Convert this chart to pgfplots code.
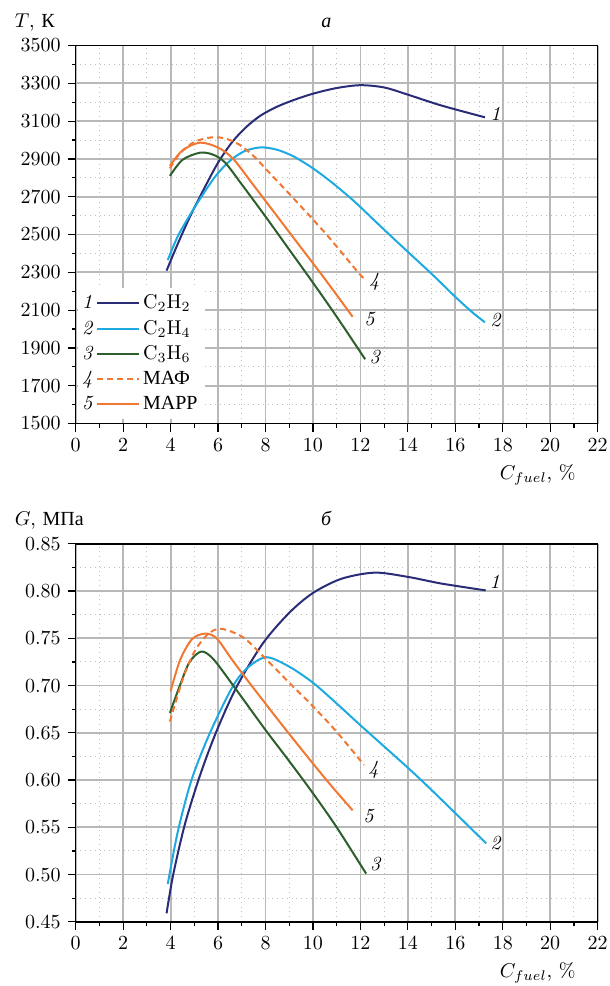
\documentclass[border=0pt]{standalone}
\usepackage{pgfplots}
\pgfplotsset{compat=1.18}
\usepackage{fontspec}
\newfontfamily\cyr{Liberation Serif}
\definecolor{cA}{RGB}{42,44,120}
\definecolor{cB}{RGB}{30,170,225}
\definecolor{cC}{RGB}{45,95,45}
\definecolor{cD}{RGB}{240,120,50}
\pgfplotsset{
  numleg/.style={legend image code/.code={%
    \node[inner sep=0pt, text=black] at (-8pt,0pt) {\textit{#1}};%
    \draw[##1] (0pt,0pt) -- (21pt,0pt);}},
  common/.style={
    scale only axis, width=261pt, height=189pt,
    xmin=0, xmax=22, xtick={0,2,...,22},
    minor x tick num=1, minor y tick num=1,
    grid=both,
    major grid style={draw=black!28, line width=0.9pt},
    minor grid style={draw=black!25, dotted, line width=0.5pt},
    tick pos=left, tick align=outside,
    major tick length=4pt, minor tick length=2pt,
    tick style={black, line width=0.6pt},
    axis line style={line width=0.8pt},
    xlabel={$C_{fuel}$, \%},
    xlabel style={at={(axis description cs:0.885,0)}, anchor=base, yshift=-28pt},
    ylabel style={rotate=-90, at={(axis description cs:0,1)}, anchor=base west, xshift=-34pt, yshift=9pt},
    title style={at={(axis description cs:0.48,1)}, anchor=base, yshift=3pt},
    every axis plot/.append style={line width=1pt},
    /pgf/number format/1000 sep={},
  }
}
\begin{document}
\begin{tikzpicture}
\useasboundingbox (-37.85pt,-281.25pt) rectangle (267.15pt,211.75pt);
\begin{axis}[common, at={(0,0)}, anchor=south west,
  ymin=1500, ymax=3500, ytick={1500,1700,...,3500},
  ylabel={$T$, {\cyr К}}, title={{\cyr\itshape а}},
  legend style={at={(axis description cs:0,0)}, anchor=south west, xshift=1pt, yshift=2pt,
    fill=white, draw=none, inner sep=2pt, row sep=1.2pt, nodes={inner sep=1.5pt}},
  legend cell align=left]
\addplot[cA, smooth, numleg=1] coordinates {(3.83,2309)(4.3,2450)(4.8,2590)(5.4,2740)(6.0,2880)(6.6,2990)(7.2,3070)(7.8,3130)(8.5,3177)(9.2,3212)(10.0,3245)(11.0,3275)(12.0,3290)(13.0,3278)(14.0,3240)(15.4,3183)(17.25,3120)};
\addlegendentry{C$_2$H$_2$}
\addplot[cB, smooth, numleg=2] coordinates {(3.88,2365)(4.3,2490)(4.8,2600)(5.3,2700)(5.9,2810)(6.5,2890)(7.1,2940)(7.8,2961)(8.5,2948)(9.2,2912)(10.0,2850)(10.8,2775)(11.7,2680)(12.5,2585)(13.3,2490)(14.2,2385)(15.1,2280)(16.0,2170)(16.7,2090)(17.25,2035)};
\addlegendentry{C$_2$H$_4$}
\addplot[cC, smooth, numleg=3] coordinates {(3.97,2810)(4.5,2895)(5.24,2933)(5.8,2922)(6.3,2880)(7.0,2765)(8.0,2595)(9.0,2420)(10.0,2245)(11.0,2065)(12.2,1840)};
\addlegendentry{C$_3$H$_6$}
\addplot[cD, smooth, dash pattern=on 3pt off 2pt, numleg=4] coordinates {(3.97,2850)(4.4,2930)(5.0,2990)(5.73,3014)(6.3,3008)(6.9,2975)(7.5,2915)(8.1,2835)(9.15,2695)(10.57,2500)(11.9,2300)(12.2,2262)};
\addlegendentry{{\cyr МАФ}}
\addplot[cD, smooth, numleg=5] coordinates {(3.97,2863)(4.5,2945)(5.24,2986)(6.0,2960)(6.64,2900)(7.5,2760)(8.5,2595)(9.5,2430)(10.5,2265)(11.67,2065)};
\addlegendentry{{\cyr МАРР}}
\node[font=\itshape] at (axis cs:17.69,3141) {1};
\node[font=\itshape] at (axis cs:17.69,2048) {2};
\node[font=\itshape] at (axis cs:12.6,1854) {3};
\node[font=\itshape] at (axis cs:12.58,2250) {4};
\node[font=\itshape] at (axis cs:12.38,2051) {5};
\end{axis}
\begin{axis}[common, at={(0,-249.15pt)}, anchor=south west,
  ymin=0.45, ymax=0.85, ytick={0.45,0.50,...,0.86},
  yticklabel style={/pgf/number format/.cd, fixed, fixed zerofill, precision=2},
  ylabel={$G$, {\cyr МПа}}, title={{\cyr\itshape б}}]
\addplot[cA, smooth] coordinates {(3.83,0.459)(4.11,0.50)(4.6,0.553)(5.24,0.605)(5.94,0.652)(6.81,0.700)(7.9,0.745)(9.0,0.777)(10.0,0.798)(11.2,0.813)(12.6,0.8195)(14.0,0.815)(15.4,0.808)(17.28,0.8007)};
\addplot[cB, smooth] coordinates {(3.88,0.490)(4.3,0.545)(4.88,0.600)(5.66,0.650)(6.64,0.700)(7.3,0.720)(8.05,0.730)(9.0,0.720)(10.0,0.703)(11.0,0.681)(12.0,0.658)(14.0,0.613)(15.1,0.587)(17.3,0.533)};
\addplot[cC, smooth] coordinates {(3.97,0.671)(4.39,0.70)(4.8,0.725)(5.3,0.736)(5.8,0.728)(6.64,0.700)(8.0,0.653)(9.0,0.620)(10.0,0.586)(11.0,0.550)(12.24,0.501)};
\addplot[cD, smooth, dash pattern=on 3pt off 2pt] coordinates {(3.97,0.662)(4.53,0.708)(5.03,0.737)(5.6,0.755)(6.15,0.760)(7.06,0.751)(7.9,0.731)(9.0,0.703)(10.0,0.678)(11.0,0.651)(12.15,0.616)};
\addplot[cD, smooth] coordinates {(4.0,0.694)(4.4,0.727)(4.9,0.749)(5.45,0.755)(5.94,0.750)(6.6,0.727)(7.41,0.700)(8.96,0.650)(10.57,0.600)(11.67,0.568)};
\node[font=\itshape] at (axis cs:17.66,0.810) {1};
\node[font=\itshape] at (axis cs:17.69,0.533) {2};
\node[font=\itshape] at (axis cs:12.62,0.511) {3};
\node[font=\itshape] at (axis cs:12.55,0.611) {4};
\node[font=\itshape] at (axis cs:12.34,0.562) {5};
\end{axis}
\end{tikzpicture}
\end{document}
